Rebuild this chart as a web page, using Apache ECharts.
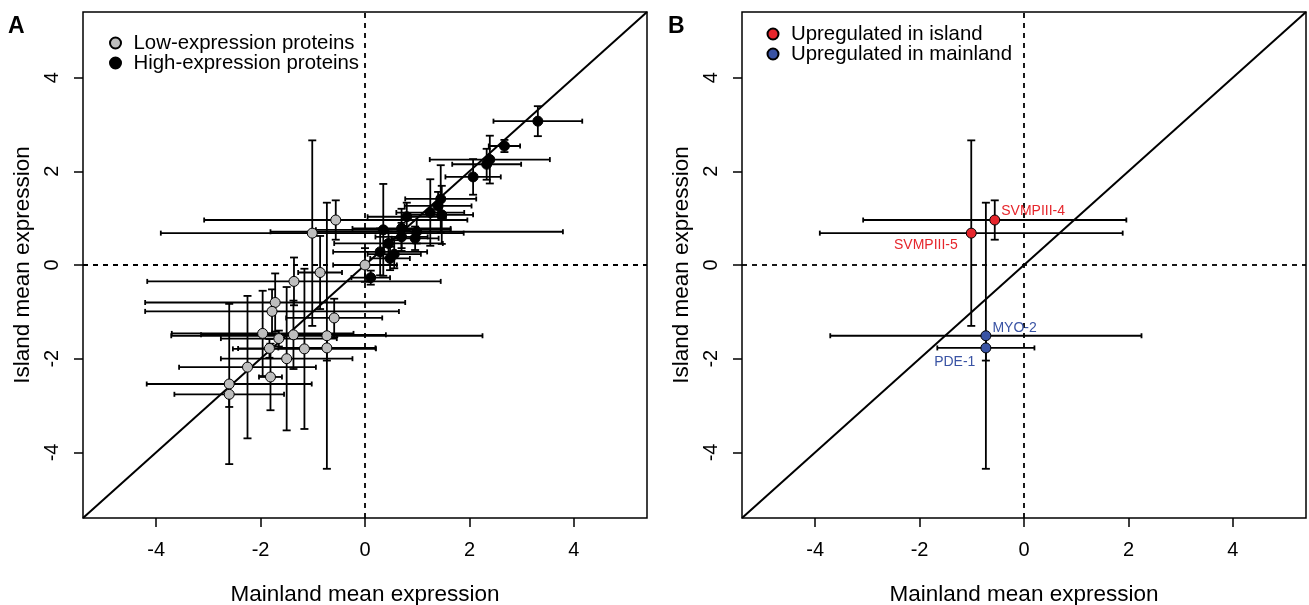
<!DOCTYPE html>
<html><head><meta charset="utf-8">
<script src="https://cdn.jsdelivr.net/npm/echarts@6/dist/echarts.min.js"></script>
<style>html,body{margin:0;padding:0;background:#fff}#c{width:1309px;height:605px}</style>
</head><body><div id="c"></div>
<script>
// ---------- data ----------
const axisMin = -5.4, axisMax = 5.4;
const tickVals = [-4, -2, 0, 2, 4];

// Low-expression proteins (other than the four highlighted in panel B)
const lowX    = [0.00, -1.36, -0.86, -1.72, -1.78, -0.59, -1.96, -1.65, -1.37, -1.83, -1.16, -1.50, -2.25, -1.81, -2.60, -2.60];
const lowY    = [0.00, -0.35, -0.16, -0.80, -0.99, -1.13, -1.46, -1.57, -1.49, -1.78, -1.79, -2.00, -2.18, -2.39, -2.54, -2.76];
const lowXErr = [0.61,  2.81,  0.42,  2.49,  2.43,  0.92,  1.74,  1.11,  1.77,  0.60,  1.37,  1.26,  1.31,  0.22,  1.58,  1.05];
const lowYErr = [0.36,  0.51,  0.78,  0.62,  0.47,  0.41,  0.91,  0.17,  0.73,  0.20,  1.71,  1.53,  1.52,  0.71,  1.71,  0.27];

// High-expression proteins
const highX    = [3.31, 2.67, 2.39, 2.33, 2.07, 1.45, 1.40, 1.25, 1.47, 0.80, 0.70, 0.70, 0.99, 0.96, 0.35, 0.45, 0.29, 0.56, 0.48, 0.11];
const highY    = [3.07, 2.54, 2.25, 2.15, 1.88, 1.41, 1.26, 1.12, 1.07, 1.03, 0.78, 0.60, 0.71, 0.57, 0.75, 0.46, 0.28, 0.23, 0.14, -0.27];
const highXErr = [0.85, 0.30, 1.15, 0.66, 0.53, 0.68, 0.64, 0.65, 0.60, 0.75, 0.94, 0.50, 2.80, 0.45, 1.29, 1.04, 0.90, 0.51, 0.38, 0.37];
const highYErr = [0.32, 0.13, 0.51, 0.33, 0.38, 0.72, 0.30, 0.71, 0.62, 0.30, 0.42, 0.30, 0.25, 0.25, 0.98, 0.30, 0.50, 0.30, 0.25, 0.15];

// Panel B: upregulated in island
const islandNames = ['SVMPIII-4', 'SVMPIII-5'];
const islandX     = [-0.56, -1.01];
const islandY     = [0.96, 0.68];
const islandXErr  = [2.52, 2.90];
const islandYErr  = [0.42, 1.98];

// Panel B: upregulated in mainland
const mainNames = ['MYO-2', 'PDE-1'];
const mainX     = [-0.73, -0.73];
const mainY     = [-1.51, -1.77];
const mainXErr  = [2.98, 0.93];
const mainYErr  = [2.84, 0.27];

// ---------- build ----------
const FONT = '"Liberation Sans", Arial, Helvetica, sans-serif';
const rows = (xs, ys, exs, eys) => xs.map((x, i) => [x, ys[i], exs[i], eys[i]]);
const lowAll = rows(lowX.concat(islandX, mainX), lowY.concat(islandY, mainY),
                    lowXErr.concat(islandXErr, mainXErr), lowYErr.concat(islandYErr, mainYErr));
const highAll = rows(highX, highY, highXErr, highYErr);
const islandRows = rows(islandX, islandY, islandXErr, islandYErr);
const mainRows = rows(mainX, mainY, mainXErr, mainYErr);

function errorBars(params, api) {
  const x = api.value(0), y = api.value(1), ex = api.value(2), ey = api.value(3);
  const l = api.coord([x - ex, y]), r = api.coord([x + ex, y]);
  const t = api.coord([x, y + ey]), b = api.coord([x, y - ey]);
  const st = { stroke: '#000', lineWidth: 1.8 };
  const hc = 2.5, vc = 4;
  const ln = (x1, y1, x2, y2) => ({ type: 'line', shape: { x1, y1, x2, y2 }, style: st });
  return { type: 'group', children: [
    ln(l[0], l[1], r[0], r[1]),
    ln(l[0], l[1] - hc, l[0], l[1] + hc),
    ln(r[0], r[1] - hc, r[0], r[1] + hc),
    ln(t[0], t[1], b[0], b[1]),
    ln(t[0] - vc, t[1], t[0] + vc, t[1]),
    ln(b[0] - vc, b[1], b[0] + vc, b[1])
  ]};
}

function xAx(gi) {
  return {
    type: 'value', gridIndex: gi, min: axisMin, max: axisMax,
    splitLine: { show: false }, axisLine: { show: false, onZero: false },
    axisTick: { show: true, inside: false, length: 9, customValues: tickVals, lineStyle: { color: '#000', width: 1.5 } },
    axisLabel: { customValues: tickVals, color: '#000', fontSize: 20, fontFamily: FONT, margin: 22 },
    name: 'Mainland mean expression', nameLocation: 'middle', nameGap: 65,
    nameTextStyle: { color: '#000', fontSize: 22.5, fontFamily: FONT }
  };
}
function yAx(gi) {
  return {
    type: 'value', gridIndex: gi, min: axisMin, max: axisMax,
    splitLine: { show: false }, axisLine: { show: false, onZero: false },
    axisTick: { show: true, inside: false, length: 9, customValues: tickVals, lineStyle: { color: '#000', width: 1.5 } },
    axisLabel: { customValues: tickVals, color: '#000', fontSize: 20, fontFamily: FONT, margin: 21, rotate: 90 },
    name: 'Island mean expression', nameLocation: 'middle', nameGap: 49, nameRotate: 90,
    nameTextStyle: { color: '#000', fontSize: 22.5, fontFamily: FONT }
  };
}

function refLines(gi) {
  const dash = { color: '#000', width: 1.8, type: [5, 5] };
  const base = { type: 'line', xAxisIndex: gi, yAxisIndex: gi, symbol: 'none', silent: true, z: 1, animation: false };
  return [
    Object.assign({}, base, { data: [[0, axisMin], [0, axisMax]], lineStyle: dash }),
    Object.assign({}, base, { data: [[axisMin, 0], [axisMax, 0]], lineStyle: dash }),
    Object.assign({}, base, { data: [[axisMin, axisMin], [axisMax, axisMax]], lineStyle: { color: '#000', width: 2 } })
  ];
}

function errSeries(gi, data) {
  return { type: 'custom', xAxisIndex: gi, yAxisIndex: gi, renderItem: errorBars, data,
           encode: { x: 0, y: 1 }, z: 2, silent: true, animation: false };
}

const labelStyle = {
  'SVMPIII-4': { position: 'right', distance: 1, offset: [0, -9] },
  'SVMPIII-5': { position: 'left', distance: 8, offset: [0, 12] },
  'MYO-2':     { position: 'right', distance: 1, offset: [0, -8] },
  'PDE-1':     { position: 'left', distance: 5, offset: [0, 14] }
};
const RED = '#e6262c', BLUE = '#3953a4';
const named = (names, rs, color) => rs.map((r, i) => ({
  name: names[i], value: [r[0], r[1]],
  label: Object.assign({ show: true, formatter: names[i], color, fontSize: 14, fontFamily: FONT }, labelStyle[names[i]])
}));

const gridBase = { top: 12, width: 564, height: 506, show: true, borderColor: '#000', borderWidth: 1.5,
                   containLabel: false, outerBoundsMode: 'none' };

const option = {
  animation: false,
  grid: [
    Object.assign({ left: 83 }, gridBase),
    Object.assign({ left: 742 }, gridBase)
  ],
  xAxis: [xAx(0), xAx(1)],
  yAxis: [yAx(0), yAx(1)],
  legend: [
    { data: ['Low-expression proteins', 'High-expression proteins'], orient: 'vertical', padding: 0,
      left: 109, top: 33, itemWidth: 26, itemHeight: 11, itemGap: 0, icon: 'circle',
      textStyle: { color: '#000', fontSize: 20.4, fontFamily: FONT, lineHeight: 19 }, selectedMode: false },
    { data: ['Upregulated in island', 'Upregulated in mainland'], orient: 'vertical', padding: 0,
      left: 766.5, top: 24, itemWidth: 26, itemHeight: 11, itemGap: 0, icon: 'circle',
      textStyle: { color: '#000', fontSize: 20.4, fontFamily: FONT, lineHeight: 19.4 }, selectedMode: false }
  ],
  graphic: [
    { type: 'text', left: 8, top: 15, style: { text: 'A', font: 'bold 23px ' + FONT, fill: '#000' } },
    { type: 'text', left: 668, top: 15, style: { text: 'B', font: 'bold 23px ' + FONT, fill: '#000' } }
  ],
  series: [
    ...refLines(0), ...refLines(1),
    errSeries(0, lowAll), errSeries(0, highAll),
    errSeries(1, islandRows), errSeries(1, mainRows),
    { name: 'Low-expression proteins', type: 'scatter', xAxisIndex: 0, yAxisIndex: 0, z: 3,
      data: lowAll.map(r => [r[0], r[1]]), symbol: 'circle', symbolSize: 10,
      itemStyle: { color: '#bebebe', borderColor: '#000', borderWidth: 1, opacity: 1 }, emphasis: { disabled: true } },
    { name: 'High-expression proteins', type: 'scatter', xAxisIndex: 0, yAxisIndex: 0, z: 4,
      data: highAll.map(r => [r[0], r[1]]), symbol: 'circle', symbolSize: 10,
      itemStyle: { color: '#000', borderColor: '#000', borderWidth: 1, opacity: 1 }, emphasis: { disabled: true } },
    { name: 'Upregulated in island', type: 'scatter', xAxisIndex: 1, yAxisIndex: 1, z: 3,
      data: named(islandNames, islandRows, RED), symbol: 'circle', symbolSize: 10,
      itemStyle: { color: RED, borderColor: '#000', borderWidth: 1, opacity: 1 }, emphasis: { disabled: true } },
    { name: 'Upregulated in mainland', type: 'scatter', xAxisIndex: 1, yAxisIndex: 1, z: 3,
      data: named(mainNames, mainRows, BLUE), symbol: 'circle', symbolSize: 10,
      itemStyle: { color: BLUE, borderColor: '#000', borderWidth: 1, opacity: 1 }, emphasis: { disabled: true } }
  ]
};
echarts.init(document.getElementById('c'), null, { renderer: 'canvas' }).setOption(option);
</script>
</body></html>
